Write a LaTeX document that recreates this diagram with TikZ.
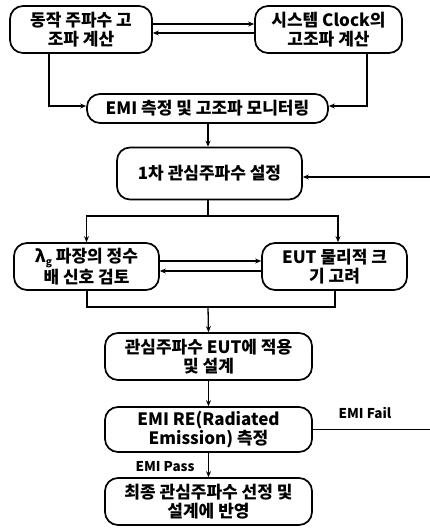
\documentclass[tikz,border=0pt]{standalone}
\usepackage{fontspec}
\setmainfont{Noto Sans CJK KR}
\usetikzlibrary{arrows.meta,calc}
\tikzset{
  box/.style={draw, line width=1.7pt, rounded corners=13pt, align=center, inner sep=0pt, font=\fontsize{17}{19.5}\selectfont\bfseries},
  arr/.style={line width=1.3pt, -{Stealth[length=6pt,width=5pt]}},
  ln/.style={line width=1.3pt},
  lbl/.style={font=\fontsize{13.5}{15}\selectfont\bfseries, inner sep=0pt}
}
\begin{document}
\begin{tikzpicture}[x=1pt,y=-1pt]
\useasboundingbox (0,0) rectangle (429,528);
\node[box, minimum width=142pt, minimum height=47pt] (b1) at (81,29.5) {동작 주파수 고\\조파 계산};
\node[box, minimum width=147pt, minimum height=47pt] (b2) at (328.5,29.5) {시스템 Clock의\\고조파 계산};
\node[box, minimum width=241pt, minimum height=29pt] (b3) at (207.5,108.5) {EMI 측정 및 고조파 모니터링};
\node[box, minimum width=185pt, minimum height=52pt] (b4) at (209.5,173.5) {1차 관심주파수 설정};
\node[box, minimum width=145pt, minimum height=47pt] (b5) at (86.5,266.5) {λ\raisebox{-0.35ex}{\fontsize{10}{10}\selectfont g} 파장의 정수\\배 신호 검토};
\node[box, minimum width=145pt, minimum height=47pt] (b6) at (334.5,266.5) {EUT 물리적 크\\기 고려};
\node[box, minimum width=207pt, minimum height=47pt] (b7) at (208.5,356.5) {관심주파수 EUT에 적용\\및 설계};
\node[box, minimum width=207pt, minimum height=45pt] (b8) at (208.5,429.5) {EMI RE(Radiated\\Emission) 측정};
\node[box, minimum width=207pt, minimum height=47pt] (b9) at (208.5,501.5) {최종 관심주파수 선정 및\\설계에 반영};
\node[lbl] (fail) at (365,413) {EMI Fail};
\node[lbl] (pass) at (165,467) {EMI Pass};
\coordinate (split) at (208,216);
\coordinate (join) at (208,307);
\coordinate (fr) at (433,429.5);
% top pair
\draw[arr] ([yshift=5.5pt]b1.east) -- ([yshift=5.5pt]b2.west);
\draw[arr] ([yshift=-3.5pt]b2.west) -- ([yshift=-3.5pt]b1.east);
\draw[arr] ([xshift=-32pt]b1.south) |- ([yshift=2.5pt]b3.west);
\draw[arr] ([xshift=38.5pt]b2.south) |- ([yshift=2.5pt]b3.east);
\draw[arr] ([xshift=0.5pt]b3.south) -- ([xshift=-1.5pt]b4.north);
% split
\draw[ln] ([xshift=-1.5pt]b4.south) -- (split);
\draw[arr] (split) -| (b5.north);
\draw[arr] (split) -| ([xshift=3.5pt]b6.north);
\draw[arr] ([yshift=5.5pt]b5.east) -- ([yshift=5.5pt]b6.west);
\draw[arr] ([yshift=-4.5pt]b6.west) -- ([yshift=-4.5pt]b5.east);
\draw[ln] ([xshift=0.5pt]b5.south) |- (join);
\draw[ln] ([xshift=0.5pt]b6.south) |- (join);
\draw[arr] (join) -- (b7.north);
\draw[arr] (b7.south) -- (b8.north);
\draw[arr] (b8.south) -- (b9.north);
\draw[arr] (b8.east) -- (fr) |- ([yshift=-3.5pt]b4.east);
\end{tikzpicture}
\end{document}
